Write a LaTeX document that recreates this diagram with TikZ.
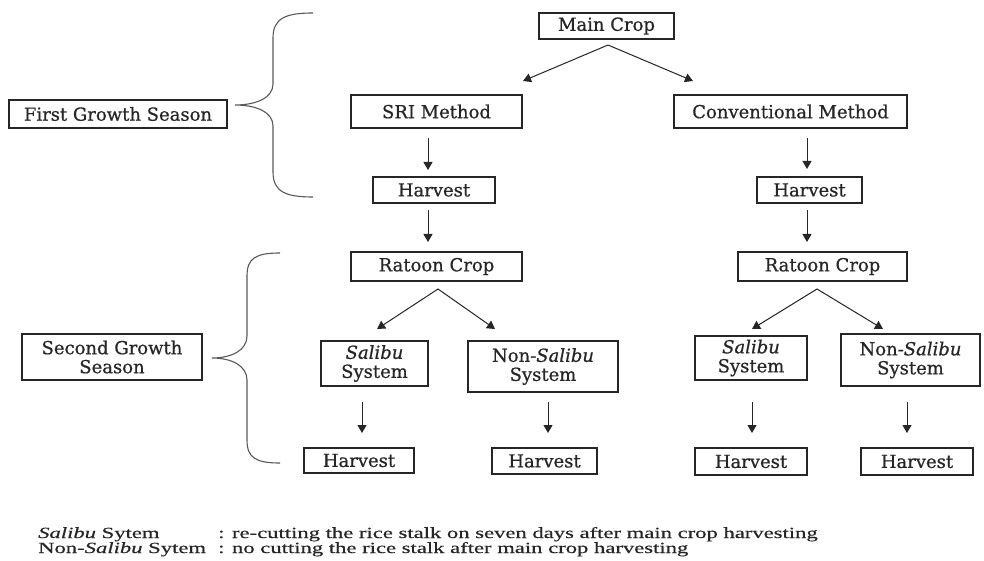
\documentclass[tikz,border=0pt]{standalone}
\usepackage{fontspec}
\setmainfont{DejaVu Serif}[FakeBold=0.6]
\newfontfamily\legfont{Liberation Serif}[FakeStretch=1.46,FakeBold=0.4]
\usetikzlibrary{arrows.meta}
\begin{document}
\begin{tikzpicture}[x=1pt,y=-1pt,
  box/.style={draw=black!85, line width=1.2pt, inner sep=0pt, align=center,
     text=black!85, font=\fontsize{18}{19}\selectfont},
  arr/.style={draw=black!85, line width=1pt, -{Triangle[length=8pt,width=9pt]}},
  brace/.style={draw=black!65, line width=1.1pt},
  leg/.style={anchor=base west, inner sep=0pt, text=black!85, font=\legfont\fontsize{15.5}{17}\selectfont}]
\useasboundingbox[fill=white] (0,0) rectangle (984,561);
% nodes
\node[box, minimum width=135pt, minimum height=26pt] (main) at (606.5,26) {Main Crop};
\node[box, minimum width=171pt, minimum height=33pt] (sri) at (436.5,111.5) {SRI Method};
\node[box, minimum width=233pt, minimum height=33pt] (conv) at (790.5,111.5) {Conventional Method};
\node[box, minimum width=122pt, minimum height=26pt] (h1L) at (434,190) {Harvest};
\node[box, minimum width=105pt, minimum height=26pt] (h1R) at (809.5,190) {Harvest};
\node[box, minimum width=171pt, minimum height=29pt] (ratL) at (436.5,266.5) {Ratoon Crop};
\node[box, minimum width=169pt, minimum height=29pt] (ratR) at (822.5,266.5) {Ratoon Crop};
\node[box, minimum width=107pt, minimum height=45pt] (salL) at (374.5,363.5) {\textit{Salibu}\\System};
\node[box, minimum width=150pt, minimum height=51pt] (nonL) at (543,366.5) {Non-\textit{Salibu}\\System};
\node[box, minimum width=112pt, minimum height=44pt] (salR) at (751,358) {\textit{Salibu}\\System};
\node[box, minimum width=139pt, minimum height=52pt] (nonR) at (910.5,360) {Non-\textit{Salibu}\\System};
\node[box, minimum width=110pt, minimum height=25pt] (hbL1) at (359,460.5) {Harvest};
\node[box, minimum width=105pt, minimum height=26pt] (hbL2) at (544.5,461) {Harvest};
\node[box, minimum width=112pt, minimum height=27pt] (hbR1) at (751,461.5) {Harvest};
\node[box, minimum width=112pt, minimum height=27pt] (hbR2) at (917,461.5) {Harvest};
\node[box, minimum width=218pt, minimum height=28pt] (fgs) at (118,114) {First Growth Season};
\node[box, minimum width=180pt, minimum height=46pt] (sgs) at (112,357) {Second Growth\\Season};
% arrow end points
\coordinate (m0) at (608,45);
\coordinate (m1) at (523,81);
\coordinate (m2) at (693,81);
\coordinate (a1) at (428,138); \coordinate (a2) at (428,170);
\coordinate (b1) at (807,138); \coordinate (b2) at (807,169);
\coordinate (a3) at (428,210); \coordinate (a4) at (428,242);
\coordinate (b3) at (807,210); \coordinate (b4) at (807,242);
\coordinate (rl0) at (438,289); \coordinate (rl1) at (377,329); \coordinate (rl2) at (495,329);
\coordinate (rr0) at (817,289); \coordinate (rr1) at (752,329); \coordinate (rr2) at (883,329);
\coordinate (c1) at (362,402); \coordinate (c2) at (362,433);
\coordinate (d1) at (548,402); \coordinate (d2) at (548,433);
\coordinate (e1) at (752,402); \coordinate (e2) at (752,433);
\coordinate (f1) at (907,402); \coordinate (f2) at (907,433);
% arrows
\draw[arr] (m0) -- (m1);
\draw[arr] (m0) -- (m2);
\draw[arr] (a1) -- (a2);
\draw[arr] (b1) -- (b2);
\draw[arr] (a3) -- (a4);
\draw[arr] (b3) -- (b4);
\draw[arr] (rl0) -- (rl1);
\draw[arr] (rl0) -- (rl2);
\draw[arr] (rr0) -- (rr1);
\draw[arr] (rr0) -- (rr2);
\draw[arr] (c1) -- (c2);
\draw[arr] (d1) -- (d2);
\draw[arr] (e1) -- (e2);
\draw[arr] (f1) -- (f2);
% braces
\draw[brace] (313,13) .. controls (286,13) and (273,18) .. (273,38) -- (273,84)
  .. controls (273,98) and (256,105) .. (235,105)
  .. controls (256,105) and (273,112) .. (273,126) -- (273,172)
  .. controls (273,192) and (286,197) .. (313,197);
\draw[brace] (280,253) .. controls (256,253) and (247,258) .. (247,276) -- (247,336)
  .. controls (247,350) and (232,358) .. (212,358)
  .. controls (232,358) and (247,366) .. (247,380) -- (247,440)
  .. controls (247,458) and (256,463) .. (280,463);
% legend
\node[leg] (l1a) at (38,538) {\textit{Salibu} Sytem};
\node[leg] (l1b) at (218,538) {: re-cutting the rice stalk on seven days after main crop harvesting};
\node[leg] (l2a) at (38,553) {Non-\textit{Salibu} Sytem};
\node[leg] (l2b) at (218,553) {: no cutting the rice stalk after main crop harvesting};
\end{tikzpicture}
\end{document}
